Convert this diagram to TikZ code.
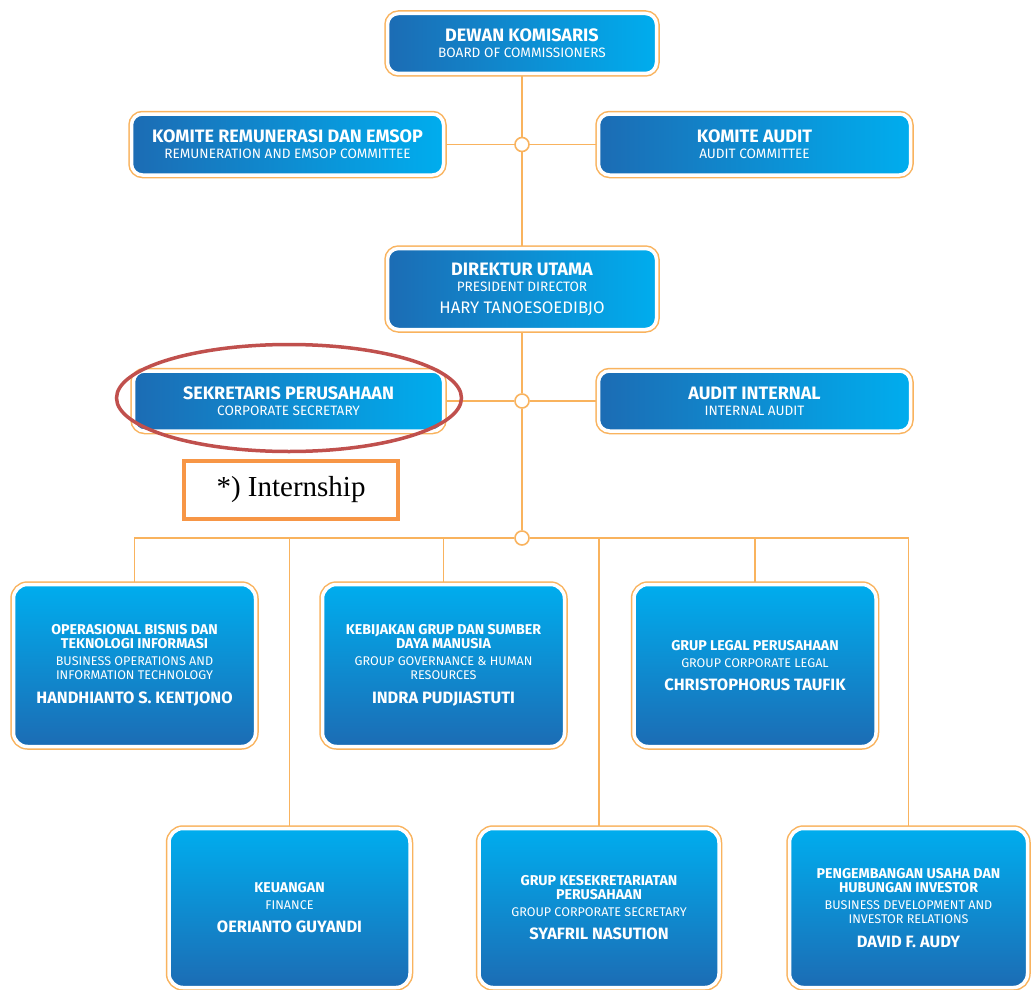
\documentclass[tikz,border=0pt]{standalone}
\usepackage{fontspec}
\setmainfont{Fira Sans}
\newfontfamily\timesf{Liberation Serif}
\usetikzlibrary{shapes.geometric}
\pgfdeclarelayer{bg}
\pgfsetlayers{bg,main}
\definecolor{bdark}{HTML}{1C6CB4}
\definecolor{blight}{HTML}{00ADEE}
\definecolor{oline}{HTML}{F9B35E}
\definecolor{ored}{HTML}{C0504D}
\definecolor{obox}{HTML}{F79646}
\newcommand{\tA}{\fontsize{18}{20}\selectfont\bfseries}
\newcommand{\tB}{\fontsize{13.6}{15}\selectfont}
\newcommand{\tC}{\fontsize{16.7}{19}\selectfont}
\newcommand{\rA}{\fontsize{14.2}{15}\selectfont\bfseries}
\newcommand{\rB}{\fontsize{12.6}{14}\selectfont}
\newcommand{\rC}{\fontsize{16.4}{18}\selectfont\bfseries}
\tikzset{
 base/.style={rounded corners=11, draw=white, line width=3.5,
   preaction={draw=oline, line width=6.5}, text=white, align=center, inner sep=0,
   font=\fontsize{12}{14}\selectfont},
 hbox/.style={base, left color=bdark, right color=blight},
 vbox/.style={base, top color=blight, bottom color=bdark, rounded corners=14},
 conn/.style={draw=oline, line width=1.6},
 dot/.style={circle, draw=oline, line width=1.6, fill=white, minimum size=14, inner sep=0},
}
\begin{document}
\begin{tikzpicture}[x=1pt,y=-1pt]
\clip (0,0) rectangle (1031,990);

\node[hbox, minimum width=269, minimum height=60] (dk) at (522,43.5)
 {{\tA DEWAN KOMISARIS}\\[2pt]{\tB BOARD OF COMMISSIONERS}};
\node[hbox, minimum width=312, minimum height=61] (krem) at (287.5,144.5)
 {{\tA KOMITE REMUNERASI DAN EMSOP}\\[2pt]{\tB REMUNERATION AND EMSOP COMMITTEE}};
\node[hbox, minimum width=312, minimum height=61] (kaud) at (754.5,144.5)
 {{\tA KOMITE AUDIT}\\[2pt]{\tB AUDIT COMMITTEE}};
\node[hbox, minimum width=269, minimum height=81] (du) at (522,289)
 {{\tA DIREKTUR UTAMA}\\[2pt]{\tB PRESIDENT DIRECTOR}\\[8pt]{\tC HARY TANOESOEDIBJO}};
\node[hbox, minimum width=310, minimum height=60] (sek) at (288.5,401)
 {{\tA SEKRETARIS PERUSAHAAN}\\[2pt]{\tB CORPORATE SECRETARY}};
\node[hbox, minimum width=312, minimum height=60] (ai) at (754.5,401)
 {{\tA AUDIT INTERNAL}\\[2pt]{\tB INTERNAL AUDIT}};

\node[vbox, minimum width=242, minimum height=162] (b1) at (134.5,665.5)
 {{\rA OPERASIONAL BISNIS DAN}\\[0pt]{\rA TEKNOLOGI INFORMASI}\\[3pt]{\rB BUSINESS OPERATIONS AND}\\[0pt]{\rB INFORMATION TECHNOLOGY}\\[10pt]{\rC HANDHIANTO S. KENTJONO}};
\node[vbox, minimum width=242, minimum height=162] (b2) at (443.5,665.5)
 {{\rA KEBIJAKAN GRUP DAN SUMBER}\\[0pt]{\rA DAYA MANUSIA}\\[3pt]{\rB GROUP GOVERNANCE \& HUMAN}\\[0pt]{\rB RESOURCES}\\[10pt]{\rC INDRA PUDJIASTUTI}};
\node[vbox, minimum width=242, minimum height=162] (b3) at (755,665.5)
 {{\rA GRUP LEGAL PERUSAHAAN}\\[3pt]{\rB GROUP CORPORATE LEGAL}\\[9pt]{\rC CHRISTOPHORUS TAUFIK}};
\node[vbox, minimum width=241, minimum height=159] (b4) at (289.5,908)
 {{\rA KEUANGAN}\\[3pt]{\rB FINANCE}\\[9pt]{\rC OERIANTO GUYANDI}};
\node[vbox, minimum width=240, minimum height=159] (b5) at (599,908)
 {{\rA GRUP KESEKRETARIATAN}\\[0pt]{\rA PERUSAHAAN}\\[3pt]{\rB GROUP CORPORATE SECRETARY}\\[9pt]{\rC SYAFRIL NASUTION}};
\node[vbox, minimum width=238, minimum height=159] (b6) at (908.5,908)
 {{\rA PENGEMBANGAN USAHA DAN}\\[0pt]{\rA HUBUNGAN INVESTOR}\\[3pt]{\rB BUSINESS DEVELOPMENT AND}\\[0pt]{\rB INVESTOR RELATIONS}\\[10pt]{\rC DAVID F. AUDY}};

\node[dot] (c1) at (522,144.5) {};
\node[dot] (c2) at (522,401) {};
\node[dot] (c3) at (522,538) {};

\begin{pgfonlayer}{bg}
\fill[white] (0,0) rectangle (1031,990);
\draw[conn] (dk) -- (c1) -- (du) -- (c2) -- (c3);
\draw[conn] (krem) -- (c1) -- (kaud);
\draw[conn] (sek) -- (c2) -- (ai);
\draw[conn] (b1.north) |- (c3);
\draw[conn] (b4.north) |- (c3);
\draw[conn] (b2.north) |- (c3);
\draw[conn] (b5.north) |- (c3);
\draw[conn] (b3.north) |- (c3);
\draw[conn] (b6.north) |- (c3);
\end{pgfonlayer}

\node[ellipse, draw=ored, line width=3.5, minimum width=345, minimum height=107, inner sep=0] (ell) at (289,398) {};
\node[draw=obox, line width=4, minimum width=214, minimum height=58, inner sep=0,
  font=\timesf\fontsize{29}{30}\selectfont] (intern) at (291,490) {*) Internship};
\end{tikzpicture}
\end{document}
